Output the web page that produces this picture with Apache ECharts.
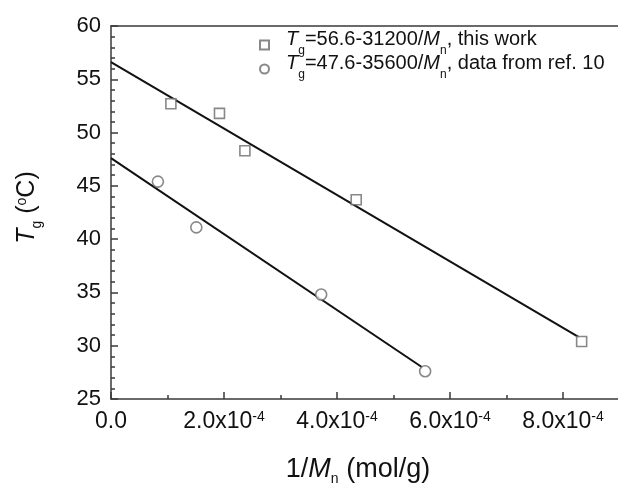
<!DOCTYPE html>
<html><head><meta charset="utf-8">
<script src="https://cdn.jsdelivr.net/npm/echarts@6/dist/echarts.min.js"></script>
<style>html,body{margin:0;padding:0;background:#fff}#c{width:618px;height:485px}</style>
</head><body><div id="c"></div>
<script>
// ---- data ----
const thisWorkX = [1.06e-4, 1.92e-4, 2.37e-4, 4.34e-4, 8.33e-4];
const thisWorkY = [52.7, 51.8, 48.3, 43.7, 30.4];
const refX = [0.83e-4, 1.51e-4, 3.72e-4, 5.56e-4];
const refY = [45.4, 41.1, 34.8, 27.6];
const fit1X = [0, 8.28e-4];
const fit1Y = [56.6, 30.8];
const fit2X = [0, 5.5e-4];
const fit2Y = [47.6, 28.0];
const xTickMantissa = ['0.0', '2.0', '4.0', '6.0', '8.0', '10.0'];
const yTickLabels = ['25', '30', '35', '40', '45', '50', '55', '60'];
const seriesNames = ['thisWork', 'ref10'];

const FONT = 'Liberation Sans, Arial, sans-serif';
const AX = '#3a3a3a';
const MK = '#6a6a6a';

function zip(a, b) { return a.map((v, i) => [v, b[i]]); }

const chart = echarts.init(document.getElementById('c'), null, {renderer: 'canvas'});

const legendRich = {
  i0: {fontStyle: 'italic', fontSize: 20, lineHeight: 32, verticalAlign: 'top', padding: [0, 0, 0, 12], fontFamily: FONT, color: '#111'},
  i: {fontStyle: 'italic', fontSize: 20, lineHeight: 32, verticalAlign: 'top', fontFamily: FONT, color: '#111'},
  t: {fontSize: 20, lineHeight: 32, verticalAlign: 'top', fontFamily: FONT, color: '#111'},
  s: {fontSize: 12, lineHeight: 12, padding: [16, 0, 0, 0], verticalAlign: 'top', fontFamily: FONT, color: '#111'}
};
const legendText = {
  thisWork: '{i0|T}{s|g}{t|=56.6-31200/}{i|M}{s|n}{t|, this work}',
  ref10: '{i0|T}{s|g}{t|=47.6-35600/}{i|M}{s|n}{t|, data from ref. 10}'
};

const option = {
  backgroundColor: '#fff',
  animation: false,
  grid: {left: 111, top: 26, width: 565, height: 373, outerBoundsMode: 'none', containLabel: false},
  legend: {
    orient: 'vertical',
    left: 254,
    top: 24,
    itemWidth: 9,
    itemHeight: 9,
    itemGap: -4,
    data: seriesNames,
    formatter: n => legendText[n],
    textStyle: {rich: legendRich, fontFamily: FONT}
  },
  xAxis: [{
    type: 'value',
    min: 0, max: 1e-3, interval: 2e-4,
    position: 'bottom',
    name: '{t|1/}{i|M}{s|n}{t| (mol/g)}',
    nameLocation: 'middle',
    nameGap: 57,
    nameTextStyle: {
      padding: [0, 71, 0, 0],
      rich: {
        t: {fontSize: 27, lineHeight: 26, verticalAlign: 'top', fontFamily: FONT, color: '#111'},
        i: {fontSize: 27, lineHeight: 26, fontStyle: 'italic', verticalAlign: 'top', fontFamily: FONT, color: '#111'},
        s: {fontSize: 14, lineHeight: 14, padding: [16, 0, 0, 0], verticalAlign: 'top', fontFamily: FONT, color: '#111'}
      }
    },
    axisLine: {show: true, onZero: false, lineStyle: {color: AX, width: 1.5}},
    axisTick: {show: true, inside: true, length: 7, lineStyle: {color: AX, width: 1.5}},
    minorTick: {show: true, splitNumber: 2, length: 4, lineStyle: {color: AX, width: 1.5}},
    splitLine: {show: false},
    axisLabel: {
      margin: 11,
      formatter: v => {
        const k = Math.round(v / 2e-4);
        const m = xTickMantissa[k];
        return k === 0 ? '{b|' + m + '}' : '{b|' + m + 'x10}{p|-4}';
      },
      rich: {
        b: {fontSize: 23, lineHeight: 23, verticalAlign: 'top', fontFamily: FONT, color: '#111'},
        p: {fontSize: 14, lineHeight: 14, padding: [0, 0, 4, 0], verticalAlign: 'top', fontFamily: FONT, color: '#111'}
      }
    }
  }, {
    type: 'value',
    min: 0, max: 1e-3,
    position: 'top',
    axisLine: {show: true, onZero: false, lineStyle: {color: AX, width: 1.5}},
    axisTick: {show: false}, axisLabel: {show: false}, splitLine: {show: false}
  }],
  yAxis: [{
    type: 'value',
    min: 25, max: 60, interval: 5,
    name: '{i|T}{s|g}{t| (}{p|o}{t|C)}',
    nameLocation: 'middle',
    nameRotate: 90,
    nameGap: 70,
    nameTextStyle: {
      padding: [0, 0, 0, 10],
      rich: {
        t: {fontSize: 25, lineHeight: 26, verticalAlign: 'top', fontFamily: FONT, color: '#111'},
        i: {fontSize: 25, lineHeight: 26, fontStyle: 'italic', verticalAlign: 'top', fontFamily: FONT, color: '#111'},
        s: {fontSize: 14, lineHeight: 14, padding: [15, 0, 0, 0], verticalAlign: 'top', fontFamily: FONT, color: '#111'},
        p: {fontSize: 14, lineHeight: 14, verticalAlign: 'top', fontFamily: FONT, color: '#111'}
      }
    },
    axisLine: {show: true, onZero: false, lineStyle: {color: AX, width: 1.5}},
    axisTick: {show: true, inside: true, length: 7, lineStyle: {color: AX, width: 1.5}},
    minorTick: {show: true, splitNumber: 5, length: 4, lineStyle: {color: AX, width: 1.5}},
    splitLine: {show: false},
    axisLabel: {
      margin: 10,
      fontSize: 22, fontFamily: FONT, color: '#111',
      formatter: v => yTickLabels[Math.round((v - 25) / 5)]
    }
  }],
  series: [
    {
      type: 'line', data: zip(fit1X, fit1Y), symbol: 'none', silent: true, z: 2,
      lineStyle: {color: '#111', width: 2}
    },
    {
      type: 'line', data: zip(fit2X, fit2Y), symbol: 'none', silent: true, z: 2,
      lineStyle: {color: '#111', width: 2}
    },
    {
      name: seriesNames[0], type: 'scatter', data: zip(thisWorkX, thisWorkY),
      symbol: 'rect', symbolSize: 10, z: 3,
      itemStyle: {color: '#fff', borderColor: MK, borderWidth: 1.6}
    },
    {
      name: seriesNames[1], type: 'scatter', data: zip(refX, refY),
      symbol: 'circle', symbolSize: 11, z: 3,
      itemStyle: {color: '#fff', borderColor: MK, borderWidth: 1.6}
    }
  ]
};
chart.setOption(option);
</script>
</body></html>
